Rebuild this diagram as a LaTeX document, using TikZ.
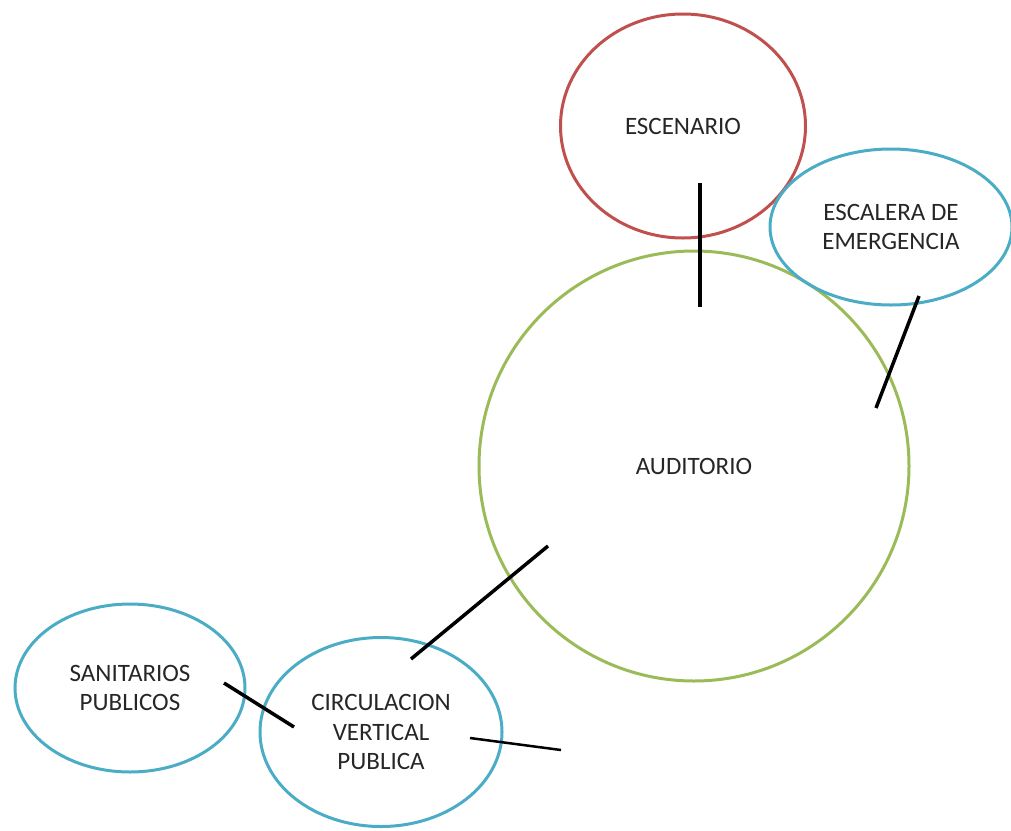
\documentclass[tikz,border=0pt]{standalone}
\usepackage{fontspec}
\setmainfont{Carlito}
\usetikzlibrary{shapes.geometric}
\definecolor{rojo}{HTML}{C0504D}
\definecolor{azul}{HTML}{4BACC6}
\definecolor{verde}{HTML}{9BBB59}
\definecolor{texto}{HTML}{262626}
\tikzset{
  zona/.style={ellipse, line width=3pt, inner sep=0pt, align=center,
    text=texto, font=\fontsize{25}{29.5}\selectfont},
  enlace/.style={line width=3.5pt, black}
}
\begin{document}
\begin{tikzpicture}[x=1pt, y=-1pt]
    % Marco del dibujo (1011 x 830)
    \useasboundingbox (0,0) rectangle (1011,830);

    % Zonas del programa (elipses)
    \node[zona, draw=verde, minimum width=430pt, minimum height=430pt] (auditorio) at (694,466) {AUDITORIO};
    \node[zona, draw=rojo, minimum width=245pt, minimum height=224pt] (escenario) at (683,126) {ESCENARIO};
    \node[zona, draw=azul, minimum width=242pt, minimum height=156pt] (escalera) at (891,227) {ESCALERA DE\\EMERGENCIA};
    \node[zona, draw=azul, minimum width=230pt, minimum height=168pt] (sanitarios) at (130,688) {SANITARIOS\\PUBLICOS};
    \node[zona, draw=azul, minimum width=242pt, minimum height=189pt] (circulacion) at (381,732) {CIRCULACION\\VERTICAL\\PUBLICA};

    % Extremos de las conexiones
    \coordinate (esc1) at (700,183);
    \coordinate (esc2) at (700,307);
    \coordinate (eme1) at (919,296);
    \coordinate (eme2) at (876,408);
    \coordinate (aud1) at (548,546);
    \coordinate (aud2) at (411,659);
    \coordinate (san1) at (224,683);
    \coordinate (san2) at (294,727);
    \coordinate (cir1) at (470,738);
    \coordinate (cir2) at (561,750);

    % Conexiones entre zonas
    \draw[enlace] (esc1) -- (esc2);
    \draw[enlace] (eme1) -- (eme2);
    \draw[enlace] (aud1) -- (aud2);
    \draw[enlace] (san1) -- (san2);
    \draw[enlace, line width=2.5pt] (cir1) -- (cir2);

\end{tikzpicture}
\end{document}
